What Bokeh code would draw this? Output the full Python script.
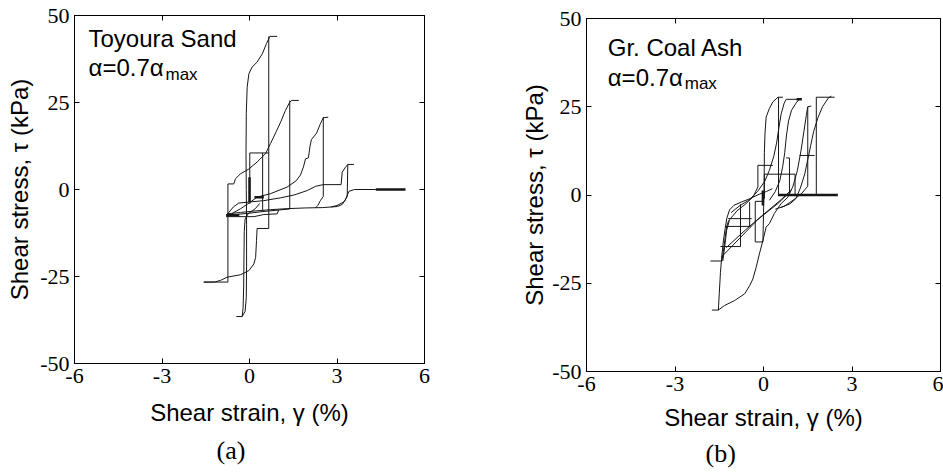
from bokeh.plotting import figure
from bokeh.models import Label, LinearAxis, FixedTicker, Title
from bokeh.layouts import row, column
from bokeh.embed import file_html
from bokeh.resources import INLINE

# ---------------- tick values / labels ----------------
x_ticks = [-6, -3, 0, 3, 6]
x_tick_labels = ["-6", "-3", "0", "3", "6"]
y_ticks = [-50, -25, 0, 25, 50]
y_tick_labels = ["-50", "-25", "0", "25", "50"]

# ---------------- (a) Toyoura Sand : strain (%) / stress (kPa) polylines ----------------
sand_xs = [
    [-0.45, -0.25, -0.15, -0.11, -0.10, -0.10, -0.11, -0.12, -0.11, -0.08, -0.02, 0.09, 0.26, 0.44, 0.58, 0.70, 0.95],
    [0.66, 0.66, 0.26, 0.24, 0.21, 0.15, -0.02, -0.31, -0.77, -0.99, -1.2, -1.57],
    [-1.57, -0.74, -0.74, -0.54, -0.48, -0.31, -0.02, 0.26, 0.55, 0.72, 0.92, 1.08, 1.23, 1.38, 1.45, 1.69],
    [1.38, 1.38, 1.0, 0.5, 0.0, -0.5, -0.8],
    [-0.25, -0.22, -0.2, -0.19, -0.18, -0.15, -0.05, 0.2, 0.35],
    [-0.6, -0.3, 0.0, 0.26, 0.72, 1.29, 1.6, 1.75, 1.85, 1.92, 2.02, 2.07, 2.12, 2.3, 2.43, 2.53, 2.7],
    [2.53, 2.53, 2.43, 2.34, 2.26],
    [3.58, 3.37, 3.29, 3.18, 3.14, 2.53, 2.26, 1.98, 1.52, 1.06, 0.49, 0.0, -0.37, -0.55, -0.75],
    [3.37, 3.35, 3.25, 3.0, 2.8],
    [-0.77, -0.31, 0.15, 0.72, 1.29, 1.92, 2.5, 3.01, 3.18, 3.3, 3.41, 3.6, 4.33],
    [-0.8, 0.15, 0.49, 0.95, 1.0],
    [0.01, 0.01, 0.66],
    [0.45, 0.45],
]
sand_ys = [
    [-36.5, -36.5, -35, -31, -22, -10, 0, 10, 21.8, 29.4, 33.3, 35.2, 36.6, 39, 41.9, 44, 44],
    [44, -11.2, -11.2, -14.7, -19.5, -21.4, -23.3, -24.5, -25.2, -26.1, -26.6, -26.6],
    [-26.6, -26.6, 1.6, 1.6, 3.1, 4.5, 5.9, 7.9, 10.3, 13.2, 16.7, 19.6, 22.7, 25.1, 25.6, 25.6],
    [25.6, -5.6, -5.9, -6.3, -6.8, -7.2, -7.3],
    [-36.5, -34, -28, -20, -12, -8.5, -7, -5.5, -4],
    [-6.9, -5.5, -3.8, -2.2, -1.2, 0.7, 2.5, 4.2, 6.5, 8.8, 9.1, 12.2, 14.3, 16.2, 18.9, 20.6, 20.8],
    [20.8, -2.0, -3.2, -4.6, -5.3],
    [7.2, 7.2, 6.4, 5.0, 1.4, 1.4, 0.9, -0.3, -1.6, -2.4, -3.2, -3.6, -3.9, -5.0, -7.0],
    [7.2, -2.0, -3.5, -4.6, -5.0],
    [-7.0, -6.6, -6.2, -5.8, -5.5, -5.3, -5.2, -4.9, -4.3, -2.7, -0.5, 0, 0],
    [-7.8, -7.8, -7.2, -7.0, -5.9],
    [-4.1, 10.5, 10.5],
    [10.5, -6.0],
]
sand_thick_xs = [[4.33, 5.35], [0.0, 0.0], [-0.8, -0.35], [0.17, 0.49]]
sand_thick_ys = [[0, 0], [3.5, -3.6], [-7.4, -7.4], [-2.2, -2.2]]

# ---------------- (b) Granulated Coal Ash polylines ----------------
ash_xs = [
    [-1.75, -1.53, -1.32, -0.98, -0.64, -0.47, -0.36, -0.25, -0.14, -0.02, 0.09, 0.2, 0.37, 0.6, 0.83, 1.0, 1.15, 1.27, 1.37, 1.45, 1.5, 1.62],
    [1.5, 1.5, 1.3, 1.0, 0.7, 0.4],
    [-1.53, -1.5, -1.46, -1.41, -1.36, -1.3, -1.24, -1.15, -1.0, -0.75, -0.45, -0.15, 0.1, 0.3],
    [-1.8, -1.41, -1.36, -1.3, -1.25, -1.18],
    [-1.43, -0.8, -0.2, 0.49, 0.85],
    [-1.26, -0.6, 0.0, 0.6, 0.95],
    [-0.28, -0.02, 0.0, 0.02, 0.03, 0.05, 0.09, 0.2, 0.32, 0.49, 0.66],
    [0.32, -0.19, -0.19, -0.35, -0.6, -0.9, -1.15, -1.25, -1.32, -1.38],
    [0.03, 0.03, 1.07, 1.07],
    [-1.3, -0.44],
    [-1.2, -0.4],
    [-1.46, -0.78, -0.78],
    [-0.47, -0.47],
    [1.79, 1.79, 2.41],
    [0.6, 0.9, 1.1, 1.25, 1.4, 1.5, 1.6, 1.7, 1.85, 2.0, 2.2, 2.3],
    [1.22, 1.73],
    [0.51, 0.51],
    [1.28, 0.77, 0.7, 0.6, 0.52, 0.45, 0.35, 0.2, 0.05, -0.2, -0.5, -0.8, -1.1],
    [1.2, 1.1, 0.95, 0.85, 0.78, 0.72, 0.65, 0.55, 0.4, 0.2],
    [-0.28, -0.28, 0.0],
    [0.77, 0.88, 0.88],
]
ash_ys = [
    [-32.6, -32.6, -31.3, -29.9, -28, -25.7, -23.8, -20.5, -16.7, -12.9, -9.1, -8.1, -5.2, -2.4, -0.6, 2.5, 7, 12.5, 18, 22.5, 25, 25.2],
    [25, 2.5, 0.5, -1.5, -3.2, -4.0],
    [-32.6, -28, -22, -17, -13, -9.5, -6.5, -4.2, -2.9, -2.0, -1.0, 0.2, 1.0, 1.8],
    [-18.7, -18.7, -16, -12, -9, -7.2],
    [-17.6, -12.2, -7.0, -2.4, 0.5],
    [-14.9, -9.8, -5.5, -1.3, 1.5],
    [-13.3, -13.3, -5, 2, 12, 17.3, 22.1, 24.5, 26.4, 27.7, 27.7],
    [8.4, 8.4, 2.3, -0.5, -2.5, -4.5, -7, -10, -15, -18.7],
    [-1.0, 5.9, 5.9, 0],
    [-8.9, -8.9],
    [-6.7, -6.7],
    [-14.6, -14.6, -2.6],
    [-8.9, -2.0],
    [0, 27.7, 27.7],
    [-3.5, -2.5, -1, 2, 6, 10, 14, 18, 22, 25, 27.5, 28],
    [11.2, 11.2],
    [27.7, 0],
    [27.1, 27.1, 26, 23, 19, 15, 11, 7, 4, 1, -1.5, -3, -5],
    [27, 26, 24, 21, 17, 12, 8, 4, 1, -1.5],
    [-13.3, -1.8, -1.8],
    [10.5, 10.5, 0],
]
ash_thick_xs = [[0.49, 2.52], [-0.02, -0.02], [1.12, 1.3]]
ash_thick_ys = [[0, 0], [1.3, -3.0], [27.1, 27.1]]

SANS = "Liberation Sans"
SERIF = "Liberation Serif"
LINE = "#161616"


def style_axis(ax, ticks, labels, show):
    ax.ticker = FixedTicker(ticks=ticks)
    ax.major_tick_in = 5
    ax.major_tick_out = 0
    ax.minor_tick_line_color = None
    ax.axis_line_color = "black"
    ax.major_tick_line_color = "black"
    if show:
        ax.major_label_overrides = {t: s for t, s in zip(ticks, labels)}
        ax.major_label_text_font = SERIF
        ax.major_label_text_font_size = "22px"
        ax.major_label_text_color = "black"
        ax.major_label_standoff = 5
    else:
        ax.axis_label = None
        ax.major_label_overrides = {t: "" for t in ticks}
        ax.major_label_text_font_size = "1px"
        ax.major_label_standoff = 0


def style_label(ax, text, standoff):
    ax.axis_label = text
    ax.axis_label_text_font = SANS
    ax.axis_label_text_font_size = "24px"
    ax.axis_label_text_font_style = "normal"
    ax.axis_label_text_color = "black"
    ax.axis_label_standoff = standoff


def make_fig(width, height, bl, br, bt, bb, xs, ys, txs, tys,
             title, title_xy, alpha_xy, sub_xy, ystand, xstand,
             tag, tag_offset, tag_standoff):
    p = figure(width=width, height=height, x_range=(-6, 6), y_range=(-50, 50),
               output_backend="svg", toolbar_location=None,
               min_border_left=bl, min_border_right=br,
               min_border_top=bt, min_border_bottom=bb)
    p.xgrid.visible = False
    p.ygrid.visible = False
    p.outline_line_color = "black"
    p.outline_line_alpha = 1.0
    p.outline_line_width = 1
    p.background_fill_color = "white"
    p.border_fill_color = "white"
    for ax in p.xaxis:
        style_axis(ax, x_ticks, x_tick_labels, True)
        style_label(ax, "Shear strain, γ (%)", xstand)
    for ax in p.yaxis:
        style_axis(ax, y_ticks, y_tick_labels, True)
        style_label(ax, "Shear stress, τ (kPa)", ystand)
    top = LinearAxis()
    style_axis(top, x_ticks, x_tick_labels, False)
    p.add_layout(top, "above")
    right = LinearAxis()
    style_axis(right, y_ticks, y_tick_labels, False)
    p.add_layout(right, "right")

    p.multi_line(xs=xs, ys=ys, line_color=LINE, line_width=1)
    p.multi_line(xs=txs, ys=tys, line_color=LINE, line_width=2.5)

    p.add_layout(Label(x=title_xy[0], y=title_xy[1], text=title, text_font=SANS,
                       text_font_size="24px", text_color="black",
                       text_baseline="alphabetic", text_align="left"))
    p.add_layout(Label(x=alpha_xy[0], y=alpha_xy[1], text="α=0.7α", text_font=SANS,
                       text_font_size="24px", text_color="black",
                       text_baseline="alphabetic", text_align="left"))
    p.add_layout(Label(x=sub_xy[0], y=sub_xy[1], text="max", text_font=SANS,
                       text_font_size="17px", text_color="black",
                       text_baseline="alphabetic", text_align="left"))
    p.add_layout(Title(text=tag, align="left", offset=tag_offset, standoff=tag_standoff,
                       text_font=SERIF, text_font_size="26px", text_font_style="normal",
                       text_color="black"), "below")
    return p


p1 = make_fig(470, 472, 74, 46, 15, 109, sand_xs, sand_ys, sand_thick_xs, sand_thick_ys,
              "Toyoura Sand", (-5.52, 43.3), (-5.52, 35.0), (-2.88, 33.0),
              4, 13, "(a)", 142, 11)
p2 = make_fig(473, 472, 116, 3, 18, 101, ash_xs, ash_ys, ash_thick_xs, ash_thick_ys,
              "Gr. Coal Ash", (-5.28, 41.7), (-5.28, 33.4), (-2.67, 31.7),
              1, 10, "(b)", 119, 6)

layout = row(column(p1), column(p2))
open("out.html", "w").write(file_html(layout, INLINE))
